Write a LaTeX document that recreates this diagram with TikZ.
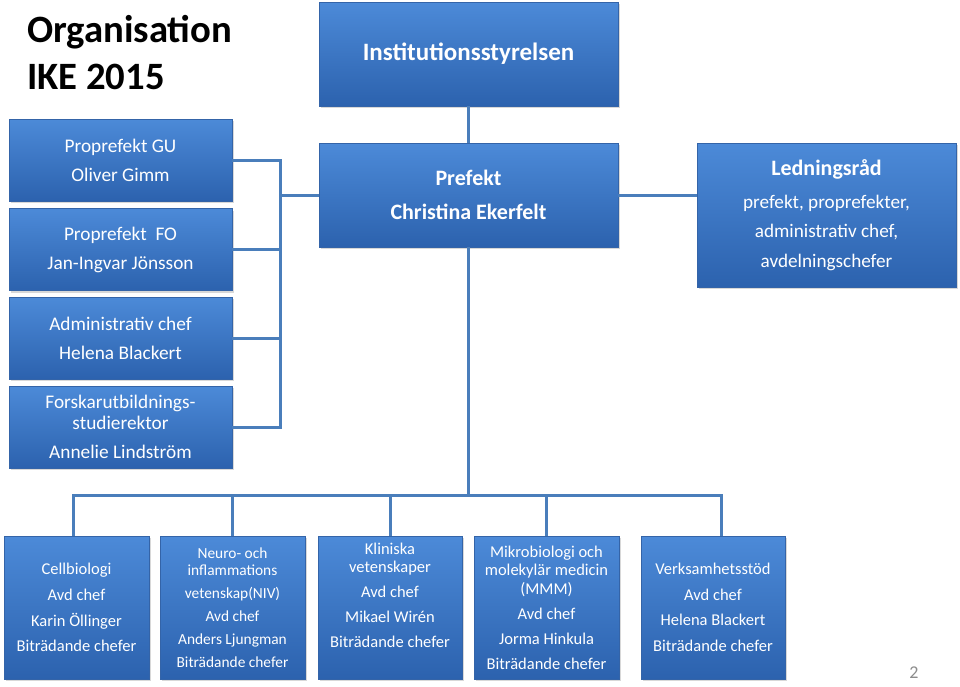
\documentclass[tikz,border=0pt]{standalone}
\usepackage{fontspec}
\setmainfont{Carlito}
\usepackage{tikz}
\usetikzlibrary{calc,shadows}
\definecolor{boxtop}{RGB}{76,138,216}
\definecolor{boxbot}{RGB}{44,98,174}
\definecolor{boxedge}{RGB}{52,100,168}
\definecolor{linkblue}{RGB}{74,126,187}
\tikzset{
	orgbox/.style={draw=boxedge, line width=0.8pt, top color=boxtop, bottom color=boxbot, text=white, align=center, inner sep=0pt, drop shadow={opacity=0.3, shadow xshift=1.5pt, shadow yshift=-2pt}},
	link/.style={draw=linkblue, line width=3pt}
}

\begin{document}
\begin{tikzpicture}[x=1pt, y=-1pt]
		%%%%% START %%%%%
		
		\useasboundingbox[fill=white] (0, 0) rectangle (960, 686);
		
		\node[anchor=north west, inner sep=0pt, align=left, font=\bfseries\fontsize{38.7}{47}\selectfont] (title) at (27, 15) {Organisation\\IKE 2015};
		
		\node[orgbox, minimum width=299pt, minimum height=104pt, font=\bfseries\fontsize{25}{30}\selectfont] (inst) at (468.5, 54) {Institutionsstyrelsen};
		\node[orgbox, minimum width=299pt, minimum height=104pt, font=\bfseries\fontsize{22}{34}\selectfont] (pref) at (468.5, 195) {Prefekt\\Christina Ekerfelt};
		\node[orgbox, minimum width=259pt, minimum height=144pt, font=\fontsize{19.2}{29.5}\selectfont] (led) at (826.5, 215) {\textbf{\fontsize{22}{29.5}\selectfont Ledningsråd}\\[3pt]prefekt, proprefekter,\\administrativ chef,\\avdelningschefer};
		
		\node[orgbox, minimum width=223pt, minimum height=82pt, font=\fontsize{19.3}{29}\selectfont] (gu) at (120.5, 160) {Proprefekt GU\\Oliver Gimm};
		\node[orgbox, minimum width=223pt, minimum height=82pt, font=\fontsize{19.3}{29}\selectfont] (fo) at (120.5, 249.5) {Proprefekt\ \ FO\\Jan-Ingvar Jönsson};
		\node[orgbox, minimum width=223pt, minimum height=82pt, font=\fontsize{19.3}{29}\selectfont] (adm) at (120.5, 338) {Administrativ chef\\Helena Blackert};
		\node[orgbox, minimum width=223pt, minimum height=82pt, font=\fontsize{19.3}{21}\selectfont] (fu) at (120.5, 427) {Forskarutbildnings-\\studierektor\\[8pt]Annelie Lindström};
		
		\node[orgbox, minimum width=145pt, minimum height=143pt, font=\fontsize{16.5}{25.7}\selectfont] (cell) at (76.5, 607.5) {Cellbiologi\\Avd chef\\Karin Öllinger\\Biträdande chefer};
		\node[orgbox, minimum width=145pt, minimum height=143pt, font=\fontsize{15.4}{17}\selectfont] (niv) at (232.5, 607.5) {Neuro- och\\inflammations\\[6pt]vetenskap(NIV)\\[6pt]Avd chef\\[6pt]Anders Ljungman\\[6pt]Biträdande chefer};
		\node[orgbox, minimum width=144pt, minimum height=143pt, font=\fontsize{16.5}{18}\selectfont] (klin) at (390, 607.5) {Kliniska\\vetenskaper\\[7pt]Avd chef\\[7pt]Mikael Wirén\\[7pt]Biträdande chefer\\[7pt]\mbox{}};
		\node[orgbox, minimum width=145pt, minimum height=143pt, font=\fontsize{16.5}{18.5}\selectfont] (mmm) at (546.5, 607.5) {Mikrobiologi och\\molekylär medicin\\(MMM)\\[6.5pt]Avd chef\\[6.5pt]Jorma Hinkula\\[6.5pt]Biträdande chefer};
		\node[orgbox, minimum width=144pt, minimum height=143pt, font=\fontsize{16.5}{25.5}\selectfont] (verk) at (713, 607.5) {Verksamhetsstöd\\Avd chef\\Helena Blackert\\Biträdande chefer};
		
		\node[text=black!45, font=\fontsize{18}{20}\selectfont] (page) at (914, 673) {2};
		
		% left group to prefekt
		\coordinate (lj) at (280, 195);
		\draw[link] (gu.east) -| (lj);
		\draw[link] (fo.east) -| (lj);
		\draw[link] (adm.east) -| (lj);
		\draw[link] (fu.east) -| (lj);
		\draw[link] (lj) -- (pref.west);
		
		\draw[link] (inst.south) -- (pref.north);
		\draw[link] (pref.east) -- (pref.east -| led.west);
		
		% avdelningar
		\coordinate (bus) at (468.5, 495);
		\draw[link] (pref.south) -- (bus);
		\draw[link] (bus) -| ($(cell.north)+(-3.5, 0)$);
		\draw[link] (bus) -| (niv.north);
		\draw[link] (bus) -| (klin.north);
		\draw[link] (bus) -| (mmm.north);
		\draw[link] (bus) -| ($(verk.north)+(8, 0)$);
		
		%%%%% END %%%%%
	\end{tikzpicture}
\end{document}
